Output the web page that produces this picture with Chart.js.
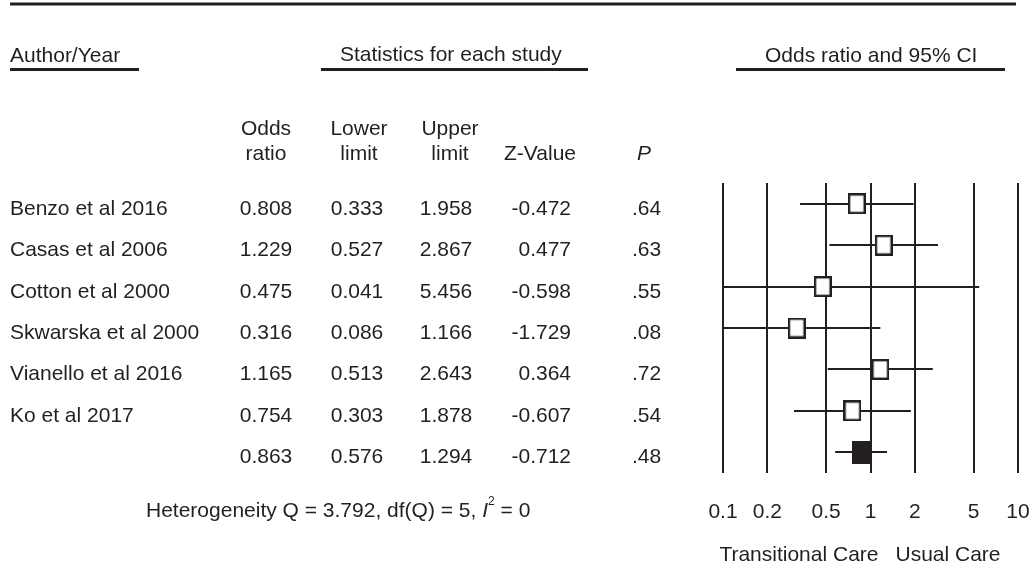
<!DOCTYPE html>
<html>
<head>
<meta charset="utf-8">
<script src="https://cdn.jsdelivr.net/npm/chart.js@4.4.1/dist/chart.umd.min.js"></script>
<style>
  html, body { margin: 0; padding: 0; background: #fff; }
  canvas { display: block; }
</style>
</head>
<body>
<canvas id="forest" width="1032" height="567"></canvas>
<script>
// datos del forest plot
const studies = ['Benzo et al 2016', 'Casas et al 2006', 'Cotton et al 2000', 'Skwarska et al 2000', 'Vianello et al 2016', 'Ko et al 2017', ''];
const oddsRatio = [0.808, 1.229, 0.475, 0.316, 1.165, 0.754, 0.863];
const lowerLimit = [0.333, 0.527, 0.041, 0.086, 0.513, 0.303, 0.576];
const upperLimit = [1.958, 2.867, 5.456, 1.166, 2.643, 1.878, 1.294];
const zValue = ['-0.472', '0.477', '-0.598', '-1.729', '0.364', '-0.607', '-0.712'];
const pValue = ['.64', '.63', '.55', '.08', '.72', '.54', '.48'];
const tickValues = [0.1, 0.2, 0.5, 1, 2, 5, 10];
const tickLabels = ['0.1', '0.2', '0.5', '1', '2', '5', '10'];
const favourLabels = ['Transitional Care', 'Usual Care'];

const ink = '#231f20';
const font = '"Liberation Sans", Arial, sans-serif';

// cuadros para los estudios (abiertos) y el resumen (relleno)
function makeBox(w, h, filled) {
  const c = document.createElement('canvas');
  c.width = w;
  c.height = h;
  const g = c.getContext('2d');
  if (filled) {
    g.fillStyle = ink;
    g.fillRect(0, 0, w, h);
  } else {
    g.fillStyle = '#fff';
    g.fillRect(0, 0, w, h);
    g.strokeStyle = ink;
    g.lineWidth = 2.4;
    g.strokeRect(1.2, 1.2, w - 2.4, h - 2.4);
  }
  return c;
}
const openBox = makeBox(18, 21, false);
const fullBox = makeBox(19, 23, true);

const tablePlugin = {
  id: 'forestTable',
  beforeDatasetsDraw(chart) {
    const ctx = chart.ctx;
    const xs = chart.scales.x;
    const ys = chart.scales.y;
    const area = chart.chartArea;
    ctx.save();
    ctx.beginPath();
    ctx.rect(area.left, area.top, area.right - area.left, area.bottom - area.top);
    ctx.clip();
    ctx.strokeStyle = ink;
    ctx.lineWidth = 2;
    oddsRatio.forEach((v, i) => {
      const y = Math.round(ys.getPixelForValue(i + 1));
      const x1 = xs.getPixelForValue(Math.max(lowerLimit[i], xs.min));
      const x2 = xs.getPixelForValue(Math.min(upperLimit[i], xs.max));
      ctx.beginPath();
      ctx.moveTo(x1, y);
      ctx.lineTo(x2, y);
      ctx.stroke();
    });
    ctx.restore();
  },
  afterDraw(chart) {
    const ctx = chart.ctx;
    const xs = chart.scales.x;
    const ys = chart.scales.y;
    ctx.save();
    ctx.fillStyle = ink;
    ctx.strokeStyle = ink;
    ctx.textBaseline = 'alphabetic';

    // linea superior
    ctx.fillRect(10, 2.5, 1006, 3);

    // encabezados de seccion
    ctx.font = '21px ' + font;
    ctx.textAlign = 'left';
    ctx.fillText('Author/Year', 10, 62);
    ctx.fillText('Statistics for each study', 340, 61);
    ctx.fillText('Odds ratio and 95% CI', 765, 62);
    ctx.fillRect(10, 68, 129, 3);
    ctx.fillRect(321, 68, 267, 3);
    ctx.fillRect(736, 68, 269, 3);

    // encabezados de columna
    ctx.textAlign = 'center';
    ctx.fillText('Odds', 266, 135);
    ctx.fillText('ratio', 266, 160);
    ctx.fillText('Lower', 359, 135);
    ctx.fillText('limit', 359, 160);
    ctx.fillText('Upper', 450, 135);
    ctx.fillText('limit', 450, 160);
    ctx.fillText('Z-Value', 540, 160);
    ctx.font = 'italic 21px ' + font;
    ctx.fillText('P', 644, 160);
    ctx.font = '21px ' + font;

    // filas
    studies.forEach((name, i) => {
      const y = ys.getPixelForValue(i + 1) + 11;
      ctx.textAlign = 'left';
      ctx.fillText(name, 10, y);
      ctx.textAlign = 'center';
      ctx.fillText(oddsRatio[i].toFixed(3), 266, y);
      ctx.fillText(lowerLimit[i].toFixed(3), 357, y);
      ctx.fillText(upperLimit[i].toFixed(3), 446, y);
      ctx.textAlign = 'right';
      ctx.fillText(zValue[i], 571, y);
      ctx.textAlign = 'left';
      ctx.fillText(pValue[i], 632, y);
    });

    // heterogeneidad
    let x = 146;
    const base = 517;
    ctx.textAlign = 'left';
    const part1 = 'Heterogeneity Q = 3.792, df(Q) = 5, ';
    ctx.fillText(part1, x, base);
    x += ctx.measureText(part1).width;
    ctx.font = 'italic 21px ' + font;
    ctx.fillText('I', x, base);
    x += ctx.measureText('I').width;
    ctx.font = '12px ' + font;
    ctx.fillText('2', x, base - 12);
    x += ctx.measureText('2').width;
    ctx.font = '21px ' + font;
    ctx.fillText(' = 0', x, base);

    // etiquetas a favor
    const one = xs.getPixelForValue(1);
    ctx.textAlign = 'right';
    ctx.fillText(favourLabels[0], one + 8, 561);
    ctx.textAlign = 'left';
    ctx.fillText(favourLabels[1], one + 25, 561);
    ctx.restore();
  }
};

new Chart(document.getElementById('forest'), {
  type: 'scatter',
  data: {
    datasets: [{
      data: oddsRatio.map((v, i) => ({ x: v, y: i + 1 })),
      pointStyle: oddsRatio.map((v, i) => (i === oddsRatio.length - 1 ? fullBox : openBox)),
      pointRadius: 10,
      showLine: false
    }]
  },
  options: {
    responsive: false,
    animation: false,
    devicePixelRatio: 1,
    layout: { padding: { left: 723, right: 14, top: 183, bottom: 0 } },
    plugins: { legend: { display: false }, tooltip: { enabled: false } },
    events: [],
    scales: {
      x: {
        type: 'logarithmic',
        min: 0.1,
        max: 10,
        afterBuildTicks: (axis) => { axis.ticks = tickValues.map(v => ({ value: v })); },
        afterFit: (axis) => { axis.height = 94; },
        ticks: {
          autoSkip: false,
          maxRotation: 0,
          padding: 0,
          color: ink,
          font: { family: font, size: 21 },
          callback: (v, i) => tickLabels[i]
        },
        // el espacio bajo las lineas va en tickLength (transparente) para no ensanchar el margen lateral
        grid: { color: ink, lineWidth: 2, drawTicks: true, tickLength: 27, tickColor: 'rgba(0,0,0,0)' },
        border: { display: false }
      },
      y: {
        type: 'linear',
        min: 0.5,
        max: 7.5,
        reverse: true,
        display: false
      }
    }
  },
  plugins: [tablePlugin]
});
</script>
</body>
</html>
